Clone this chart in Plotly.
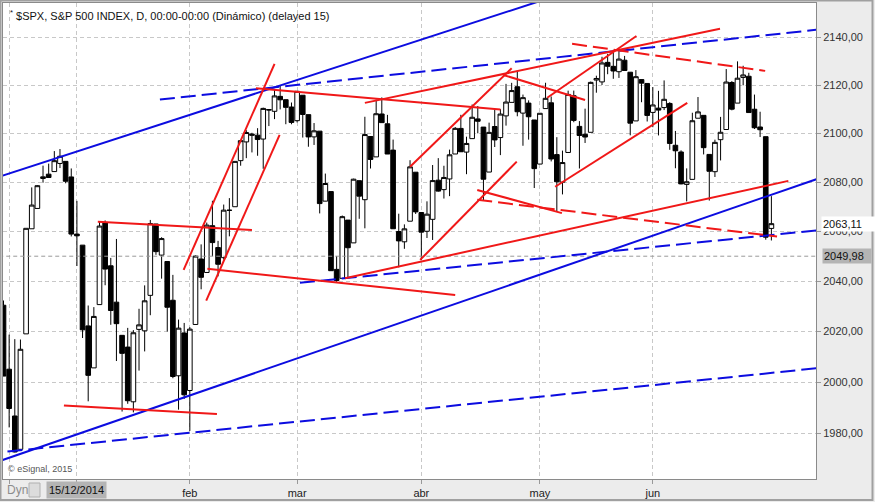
import numpy as np
import pandas as pd
import plotly.graph_objects as go

# trading days, Dec 12 2014 .. Jun 30 2015 (US market holidays removed)
holidays = ['2014-12-25', '2015-01-01', '2015-01-19', '2015-02-16', '2015-04-03', '2015-05-25']
dates = [d for d in pd.bdate_range('2014-12-12', '2015-06-30') if d.strftime('%Y-%m-%d') not in holidays]

opens = [2030.36, 2005.03, 1986.71, 1973.77, 2018.98, 2061.04, 2069.28, 2081.48, 2083.25, 2084.30, 2087.63, 2088.49, 2082.11,
         2058.90, 2054.44, 2022.15, 2005.55, 2030.61, 2063.45, 2046.13, 2031.58, 2018.40, 2013.75, 1992.25, 2020.76, 2020.19,
         2034.30, 2062.98, 2050.42, 2047.86, 2032.34, 2002.45, 2019.35,
         1996.67, 2022.71, 2048.86, 2043.45, 2062.28, 2053.47, 2049.38, 2068.55, 2069.98, 2088.78, 2096.47, 2099.16, 2099.25,
         2097.65, 2109.83, 2109.10, 2115.30, 2113.91, 2110.88,
         2105.23, 2115.76, 2107.72, 2098.54, 2100.91, 2072.25, 2076.14, 2044.69, 2041.10, 2064.56, 2055.35, 2080.59, 2072.84,
         2098.69, 2090.32, 2107.99, 2103.94, 2093.10, 2059.94, 2055.78, 2064.11, 2084.05,
         2067.63, 2060.03, 2064.87, 2080.79, 2076.94, 2081.29, 2091.51, 2102.03, 2092.28, 2097.82, 2105.96, 2102.58, 2084.11,
         2102.82, 2098.27, 2107.21, 2112.80, 2119.29, 2108.35, 2112.49, 2105.52,
         2087.38, 2110.23, 2112.63, 2091.26, 2079.96, 2092.13, 2115.56, 2102.87, 2099.62, 2100.43, 2122.07, 2121.30, 2129.45,
         2127.79, 2125.55, 2130.36, 2125.34, 2105.13, 2122.27, 2120.66,
         2108.64, 2110.41, 2110.64, 2112.35, 2095.09, 2092.34, 2079.07, 2081.12, 2106.24, 2107.43, 2091.34, 2084.26, 2097.40,
         2101.58, 2121.06, 2112.50, 2123.16, 2123.65, 2109.96, 2102.62, 2098.63, 2061.19]
highs = [2032.25, 2018.69, 2016.89, 2016.75, 2061.23, 2077.85, 2078.76, 2086.73, 2087.56, 2092.70, 2093.55, 2088.49, 2085.58,
         2072.36, 2054.44, 2030.25, 2029.61, 2064.08, 2064.43, 2049.30, 2056.93, 2018.40, 2021.35, 2020.46, 2028.94, 2038.29,
         2064.62, 2062.98, 2057.62, 2047.86, 2042.49, 2024.64, 2023.32,
         2021.66, 2050.30, 2054.74, 2063.55, 2072.40, 2056.16, 2070.86, 2073.48, 2088.53, 2097.03, 2101.30, 2100.23, 2102.13,
         2110.61, 2110.05, 2117.94, 2119.59, 2113.91, 2112.74,
         2117.52, 2115.76, 2107.72, 2104.25, 2100.91, 2083.49, 2076.14, 2050.08, 2066.41, 2064.56, 2081.41, 2080.59, 2106.85,
         2098.69, 2113.92, 2114.86, 2107.63, 2097.43, 2067.15, 2062.83, 2088.97, 2084.05,
         2067.63, 2072.17, 2086.99, 2089.81, 2086.69, 2093.31, 2102.61, 2107.65, 2098.62, 2111.91, 2111.30, 2102.58, 2104.41,
         2109.64, 2109.98, 2120.49, 2120.92, 2125.92, 2116.04, 2113.65, 2105.52,
         2108.41, 2120.95, 2115.24, 2098.42, 2092.90, 2117.66, 2117.69, 2105.06, 2110.19, 2121.45, 2123.89, 2131.78, 2133.02,
         2134.72, 2134.28, 2132.15, 2125.34, 2126.22, 2122.27, 2120.66,
         2119.15, 2117.59, 2121.92, 2112.89, 2100.99, 2093.01, 2085.62, 2108.50, 2115.02, 2107.43, 2091.34, 2097.40, 2106.79,
         2126.65, 2121.64, 2129.87, 2128.03, 2125.10, 2116.04, 2108.92, 2098.63, 2074.28]
lows = [2002.33, 1982.26, 1972.56, 1973.77, 2018.98, 2061.03, 2069.28, 2079.77, 2081.86, 2084.30, 2085.75, 2079.53, 2057.94,
        2046.04, 2017.34, 1992.44, 2005.55, 2030.61, 2038.33, 2022.58, 2008.25, 1988.44, 1991.47, 1988.12, 2004.49, 2012.04,
        2026.38, 2050.54, 2040.97, 2019.91, 2001.49, 1989.18, 1993.38,
        1980.90, 2022.71, 2036.72, 2043.45, 2049.97, 2041.88, 2048.62, 2057.99, 2069.98, 2086.70, 2089.80, 2092.15, 2090.79,
        2085.44, 2103.00, 2105.87, 2109.89, 2103.76, 2103.75,
        2104.50, 2098.26, 2094.49, 2095.22, 2067.27, 2072.21, 2044.16, 2039.69, 2041.10, 2041.17, 2055.35, 2065.08, 2061.23,
        2085.56, 2090.32, 2104.42, 2091.50, 2061.05, 2045.50, 2052.96, 2064.11, 2067.04,
        2048.38, 2057.32, 2056.52, 2076.10, 2073.30, 2074.29, 2091.51, 2092.33, 2083.24, 2097.82, 2100.02, 2072.37, 2084.11,
        2094.38, 2091.05, 2103.19, 2112.80, 2107.04, 2094.89, 2097.41, 2077.59,
        2087.38, 2110.23, 2088.46, 2067.93, 2074.99, 2092.13, 2104.58, 2085.57, 2096.04, 2100.43, 2116.81, 2120.01, 2124.50,
        2122.59, 2122.95, 2126.06, 2099.18, 2105.13, 2112.86, 2104.89,
        2102.54, 2099.14, 2109.61, 2093.23, 2085.67, 2079.11, 2072.14, 2081.12, 2106.24, 2091.33, 2072.49, 2082.10, 2088.86,
        2101.58, 2109.50, 2112.50, 2119.89, 2108.58, 2101.78, 2098.48, 2056.64, 2056.32]
closes = [2002.33, 1989.63, 1972.74, 2012.89, 2061.23, 2070.65, 2078.54, 2082.17, 2081.88, 2088.77, 2090.57, 2080.35, 2058.90,
          2058.20, 2020.58, 2002.61, 2025.90, 2062.14, 2044.81, 2028.26, 2023.03, 2011.27, 1992.67, 2019.42, 2022.55, 2032.12,
          2063.15, 2051.82, 2057.09, 2029.55, 2002.16, 2021.25, 1994.99,
          2020.85, 2050.03, 2041.51, 2062.52, 2055.47, 2046.74, 2068.59, 2068.53, 2088.48, 2096.99, 2100.34, 2099.68, 2097.45,
          2110.30, 2109.66, 2115.48, 2113.86, 2110.74, 2104.50,
          2117.39, 2107.78, 2098.53, 2101.04, 2071.26, 2079.43, 2044.16, 2040.24, 2065.95, 2053.40, 2081.19, 2074.28, 2099.50,
          2089.27, 2108.10, 2104.42, 2091.50, 2061.05, 2056.15, 2061.02, 2086.24, 2067.89,
          2059.69, 2066.96, 2080.62, 2076.33, 2081.90, 2091.18, 2102.06, 2092.43, 2095.84, 2106.63, 2104.99, 2081.18, 2100.40,
          2097.29, 2107.96, 2112.93, 2117.69, 2108.92, 2114.76, 2106.85, 2085.51,
          2108.29, 2114.49, 2089.46, 2080.15, 2088.00, 2116.10, 2105.33, 2099.12, 2098.48, 2121.10, 2122.73, 2129.20, 2127.83,
          2125.85, 2130.82, 2126.06, 2104.20, 2123.48, 2120.79, 2107.39,
          2111.73, 2109.60, 2114.07, 2095.84, 2092.83, 2079.28, 2080.15, 2105.20, 2108.86, 2094.11, 2084.43, 2096.29, 2100.44,
          2121.24, 2109.99, 2122.85, 2124.20, 2108.58, 2102.31, 2101.49, 2057.64, 2063.11]

# hand drawn trendlines: (start bar index, start price, end bar index, end price)
blue_solid_lines = [(-0.6, 2082.3, 98.6, 2158.0), (-0.6, 1969.3, 144.0, 2081.2)]
blue_dashed_lines = [(27.7, 2114.0, 144.0, 2143.1), (52.5, 2039.3, 144.0, 2060.4), (0.7, 1972.9, 144.0, 2005.4)]
red_solid_lines = [(10.7, 1990.8, 37.8, 1987.5), (16.7, 2063.9, 44.0, 2060.6), (31.9, 2044.5, 48.0, 2128.8),
                   (35.9, 2032.2, 48.9, 2099.4), (36.1, 2044.9, 80.0, 2034.4), (44.7, 2118.7, 88.0, 2109.9),
                   (64.0, 2112.6, 126.9, 2143.5), (72.0, 2086.3, 90.0, 2127.0), (73.8, 2048.5, 90.9, 2088.4),
                   (60.5, 2041.1, 139.0, 2080.5), (83.9, 2076.8, 98.9, 2067.4), (88.5, 2124.2, 103.0, 2113.8),
                   (96.3, 2114.7, 112.1, 2140.5), (97.7, 2078.1, 121.1, 2112.6)]
red_dashed_lines = [(83.9, 2072.8, 137.0, 2057.9), (100.7, 2137.2, 134.9, 2125.9)]

ref_price = 2049.98
last_price = closes[-1]
price_ticks = [1980, 2000, 2020, 2040, 2060, 2080, 2100, 2120, 2140]
month_names = {2: 'feb', 3: 'mar', 4: 'abr', 5: 'may', 6: 'jun'}

bars = list(range(len(dates)))

# first bar of each month -> vertical grid (plus the 15/12 cursor bar)
month_starts = [1] + [i for i in bars[1:] if dates[i].month != dates[i - 1].month]
month_labels = [month_names.get(dates[i].month, ' ') for i in month_starts]


# plot area in pixels: x 3..816, y 3..479
def xp(px):
    return (px - 3) / 813


def yp(py):
    return (479 - py) / 476


def segs(lines):
    xs, ys = [], []
    for x0, p0, x1, p1 in lines:
        xs += [x0, x1, None]
        ys += [p0, p1, None]
    return xs, ys


fig = go.Figure()

fig.add_trace(go.Scatter(x=[-2, 146], y=[ref_price, ref_price], mode='lines',
                         line=dict(color='#9a9a9a', width=1, dash='4px,3px'), hoverinfo='skip'))

fig.add_trace(go.Candlestick(
    x=bars, open=opens, high=highs, low=lows, close=closes,
    increasing=dict(line=dict(color='black', width=1), fillcolor='white'),
    decreasing=dict(line=dict(color='black', width=1), fillcolor='black'),
    whiskerwidth=0, hoverinfo='skip'
))

for lines, color, dash in [(blue_solid_lines, '#0c0ce0', 'solid'), (blue_dashed_lines, '#0c0ce0', '15px,6px'),
                           (red_solid_lines, '#f01818', 'solid'), (red_dashed_lines, '#f01818', '15px,6px')]:
    xs, ys = segs(lines)
    fig.add_trace(go.Scatter(x=xs, y=ys, mode='lines', line=dict(color=color, width=2, dash=dash),
                             hoverinfo='skip'))

# arrow tip of the reference price tag
fig.add_trace(go.Scatter(x=[144.35], y=[ref_price], mode='markers', cliponaxis=False,
                         marker=dict(symbol='triangle-left', size=9, color='#b4b4b4'), hoverinfo='skip'))

fig.update_layout(
    width=875, height=502,
    margin=dict(l=3, r=59, t=3, b=23),
    paper_bgcolor='#ececec', plot_bgcolor='white',
    showlegend=False,
    boxgap=0.18, boxgroupgap=0,
    font=dict(family='Liberation Sans, Arial', size=11, color='#222'),
    xaxis=dict(
        range=[-0.09, 143.9], rangeslider=dict(visible=False),
        tickvals=month_starts, ticktext=month_labels,
        showgrid=True, gridcolor='#c8c8c8', griddash='4px,3px', gridwidth=1,
        ticks='outside', ticklen=4, tickcolor='#999',
        showline=True, linecolor='#8a8a8a', mirror=True, zeroline=False,
        tickfont=dict(size=11, color='#222')
    ),
    yaxis=dict(
        type='log', side='right',
        range=[np.log10(1962.3), np.log10(2154.4)],
        tickvals=price_ticks, ticktext=[f'{v},00' for v in price_ticks],
        showgrid=True, gridcolor='#c8c8c8', griddash='4px,3px', gridwidth=1,
        ticks='outside', ticklen=4, tickcolor='#999',
        showline=True, linecolor='#8a8a8a', mirror=True, zeroline=False,
        tickfont=dict(size=11, color='#333')
    ),
)

fig.add_annotation(x=xp(8), y=yp(15), xref='paper', yref='paper', xanchor='left', yanchor='middle',
                   text='<sup>*</sup> $SPX, S&P 500 INDEX, D, 00:00-00:00 (Dinámico) (delayed 15)',
                   showarrow=False, font=dict(size=11, color='#111'))
fig.add_annotation(x=xp(6), y=yp(469), xref='paper', yref='paper', xanchor='left', yanchor='middle',
                   text='© eSignal, 2015', showarrow=False, font=dict(size=9, color='#555'))

# price tags on the right axis
fig.add_annotation(x=xp(821), y=np.log10(last_price), xref='paper', yref='y', xanchor='left', yanchor='middle',
                   text=f'{last_price:.2f}'.replace('.', ',') + '    ', showarrow=False, bgcolor='white',
                   borderpad=1, font=dict(size=11, color='#111'))
fig.add_annotation(x=xp(822), y=np.log10(ref_price), xref='paper', yref='y', xanchor='left', yanchor='middle',
                   text=f'{ref_price:.2f}'.replace('.', ',') + '  ', showarrow=False, bgcolor='#b4b4b4',
                   borderpad=1, font=dict(size=11, color='#111'))

# bottom strip: Dyn, lock, cursor date
fig.add_annotation(x=xp(5), y=yp(490), xref='paper', yref='paper', xanchor='left', yanchor='middle',
                   text='Dyn', showarrow=False, font=dict(size=12, color='#8c8c8c'))
fig.add_shape(type='rect', xref='paper', yref='paper', x0=xp(29), x1=xp(40), y0=yp(497), y1=yp(483),
              line=dict(color='#b0b0b0', width=1), fillcolor='#dcdcdc')
fig.add_annotation(x=xp(76.5), y=yp(490), xref='paper', yref='paper', xanchor='center', yanchor='middle',
                   text='15/12/2014', showarrow=False, bgcolor='#b4b4b4', borderpad=2,
                   font=dict(size=11, color='#111'))

# outer frame
fig.add_shape(type='rect', xref='paper', yref='paper', x0=xp(0.5), x1=xp(872.5), y0=yp(500), y1=yp(0.5),
              line=dict(color='#a0a0a0', width=2))

fig.write_html("out.html", config={'displayModeBar': False},
               post_script="document.body.style.margin='0';")
